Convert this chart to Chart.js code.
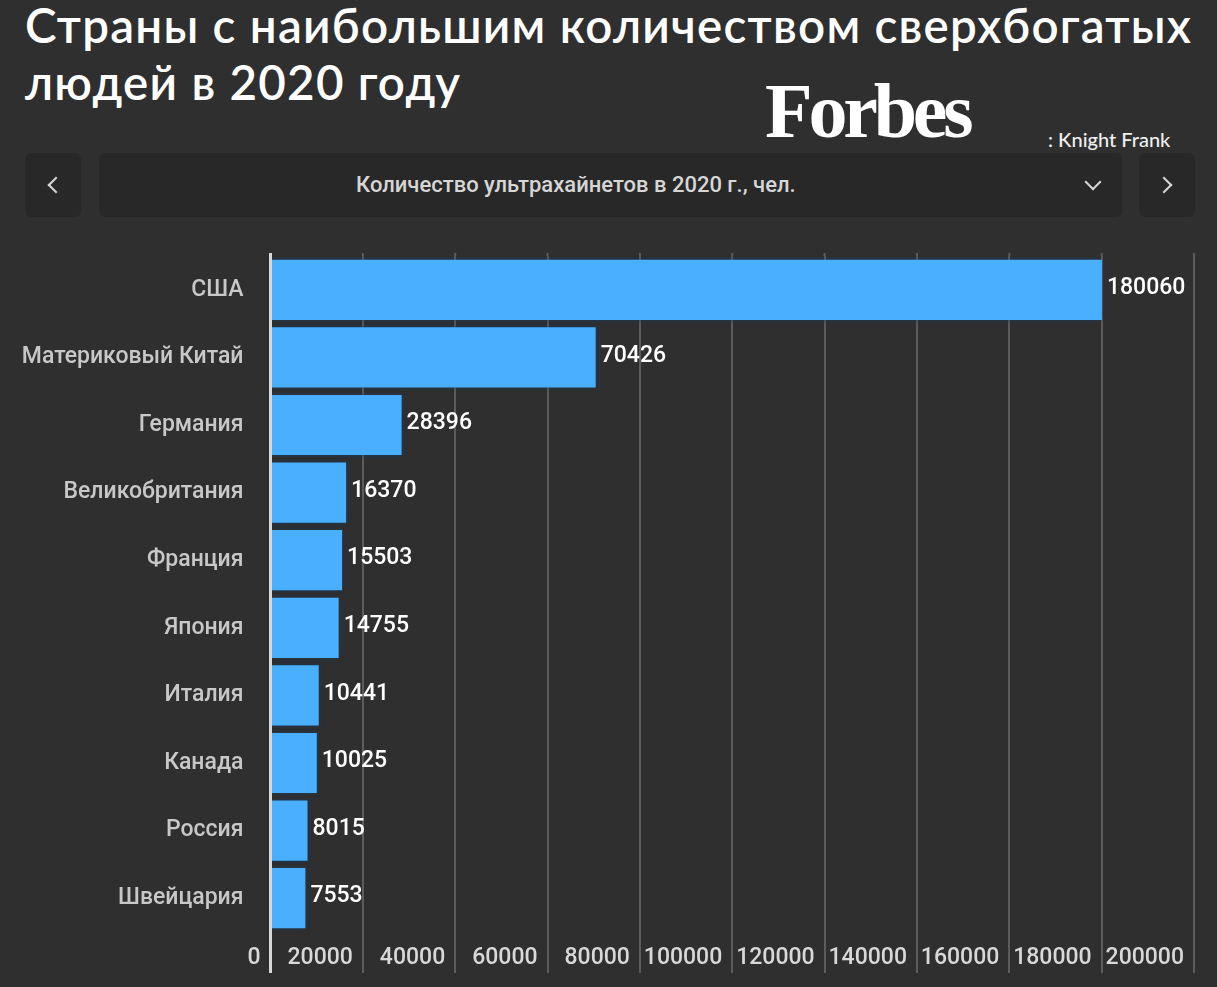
<!DOCTYPE html>
<html lang="ru"><head><meta charset="utf-8">
<script src="https://cdn.jsdelivr.net/npm/chart.js@4"></script>
<style>
html,body{margin:0;padding:0;background:#2f2f2f;width:1217px;height:987px;overflow:hidden}
body{position:relative;font-family:Roboto,sans-serif}
#c{position:absolute;left:0;top:0}
.t{position:absolute;white-space:nowrap}
#title{left:25px;top:-4px;font:600 47.5px/57px Lato,sans-serif;color:#fff;letter-spacing:1.25px}
#forbes{left:765px;top:66px;font:bold 78px/90px "Liberation Serif",serif;color:#fff;letter-spacing:-4.2px}
#source{left:1048px;top:127px;font:500 20px/24px Lato,sans-serif;color:#f0f0f0}
.p{position:absolute;top:153px;height:64px;background:#282828;border-radius:6px}
#sel{left:356px;top:172px;font:500 22px/26px Roboto,sans-serif;color:#d6d6d6}
.ar{position:absolute;width:10px;height:10px;border-left:2.5px solid #d6d6d6;border-bottom:2.5px solid #d6d6d6}
</style></head><body>
<div class="p" style="left:25px;width:56px"></div>
<div class="p" style="left:99px;width:1023px"></div>
<div class="p" style="left:1139px;width:56px"></div>
<div class="ar" style="left:50px;top:179px;transform:rotate(45deg)"></div>
<div class="ar" style="left:1158px;top:179px;transform:rotate(225deg)"></div>
<div class="ar" style="left:1087px;top:176px;transform:rotate(-45deg)"></div>
<div id="title" class="t">Страны с наибольшим количеством сверхбогатых<br>людей в 2020 году</div>
<div id="forbes" class="t">Forbes</div>
<div id="source" class="t">: Knight Frank</div>
<div id="sel" class="t">Количество ультрахайнетов в 2020 г., чел.</div>
<canvas id="c" width="1217" height="987"></canvas>
<script>
const categories=["США","Материковый Китай","Германия","Великобритания","Франция","Япония","Италия","Канада","Россия","Швейцария"];
const values=[180060,70426,28396,16370,15503,14755,10441,10025,8015,7553];
const axisMax=200000;
const axisStep=20000;

const barHalo={id:'barHalo',
 beforeDatasetsDraw(ch){const x=ch.ctx;x.save();x.shadowColor='#123f6e';x.shadowBlur=5;},
 afterDatasetsDraw(ch){ch.ctx.restore();}};
const overlay={id:'overlay',afterDatasetsDraw(ch){
 const x=ch.ctx,sx=ch.scales.x,meta=ch.getDatasetMeta(0);
 x.save();
 sx.ticks.forEach(t=>{const px=sx.getPixelForValue(t.value);
  x.beginPath();
  if(t.value===0){x.strokeStyle='#d9d9d9';x.lineWidth=3;x.moveTo(px,253);x.lineTo(px,973);}
  else{x.strokeStyle='#5c5c5c';x.lineWidth=2;x.moveTo(px,253);x.lineTo(px,ch.chartArea.top);}
  x.stroke();});
 x.fillStyle='#ffffff';x.font='500 23px Roboto';x.textAlign='left';x.textBaseline='middle';
 meta.data.forEach((b,i)=>x.fillText(String(values[i]),b.x+5,b.y-1.5));
 x.restore();}};

new Chart(document.getElementById('c'),{
 type:'bar',
 data:{labels:categories,datasets:[{data:values,backgroundColor:'#4aafff',borderWidth:0,categoryPercentage:1,barPercentage:0.89}]},
 plugins:[barHalo,overlay],
 options:{indexAxis:'y',responsive:false,animation:false,
  layout:{padding:{left:0,right:23,top:256,bottom:14}},
  plugins:{legend:{display:false},tooltip:{enabled:false},title:{display:false}},
  scales:{
   x:{min:0,max:axisMax,
      afterFit(s){s.height=41;},
      border:{display:false},
      grid:{color:'#5c5c5c',lineWidth:2,tickLength:41,drawTicks:true},
      ticks:{stepSize:axisStep,align:'end',labelOffset:-10,padding:-29,maxRotation:0,autoSkip:false,color:'#d8d8d8',font:{family:'Roboto',size:23,weight:'500'},callback:v=>String(v)}},
   y:{afterFit(s){s.width=270.5;},
      border:{display:false},
      grid:{display:false},
      ticks:{padding:19,color:'#c8c8c8',font:{family:'Roboto',size:23,weight:'500'}}}
  }}
});
</script></body></html>
